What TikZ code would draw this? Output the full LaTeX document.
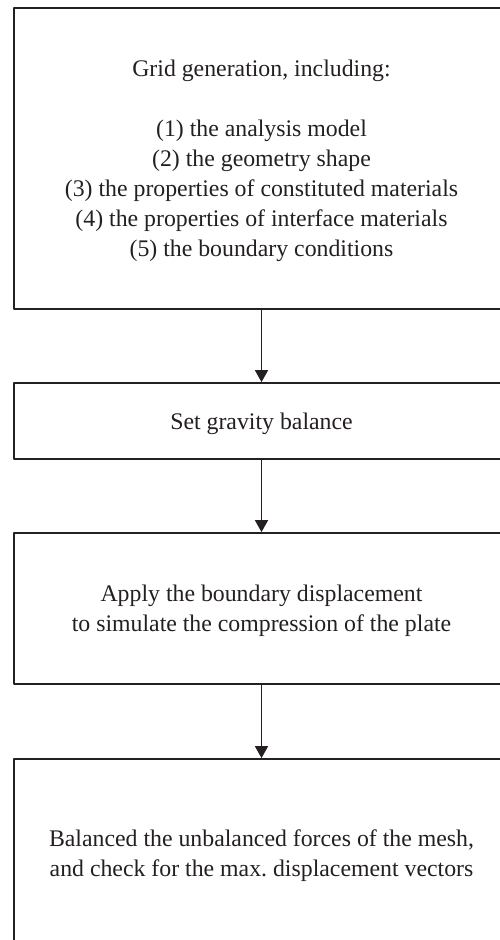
\documentclass[tikz,border=0pt]{standalone}
\usepackage{fontspec}
\setmainfont{Liberation Serif}
\usetikzlibrary{arrows.meta}
\definecolor{ink}{rgb}{0.14,0.12,0.13}
\begin{document}
\begin{tikzpicture}[x=1pt,y=-1pt,>={Triangle[width=13pt,length=12pt]}, font=\fontsize{23.8}{30}\selectfont, line join=round, line width=1.8pt, draw=ink, text=ink,
	stepbox/.style={draw=ink, rectangle, inner sep=0pt, text depth=0pt, minimum width=495pt, align=center}]
	\useasboundingbox (0,0) rectangle (500,940);
	\node[stepbox, minimum height=301pt] (grid) at (261.5,158.5) {Grid generation, including:\\[30pt]
		(1) the analysis model\\(2) the geometry shape\\(3) the properties of constituted materials\\
		(4) the properties of interface materials\\(5) the boundary conditions};
	\node[stepbox, minimum height=76pt] (gravity) at (261.5,421) {Set gravity balance};
	\node[stepbox, minimum height=151pt] (boundary) at (261.5,608.5) {Apply the boundary displacement\\to simulate the compression of the plate};
	\node[stepbox, minimum height=188pt] (balance) at (261.5,853) {Balanced the unbalanced forces of the mesh,\\and check for the max.\ displacement vectors};
	\draw[->,ink] (grid)--(gravity);
	\draw[->,ink] (gravity)--(boundary);
	\draw[->,ink] (boundary)--(balance);
\end{tikzpicture}
\end{document}
